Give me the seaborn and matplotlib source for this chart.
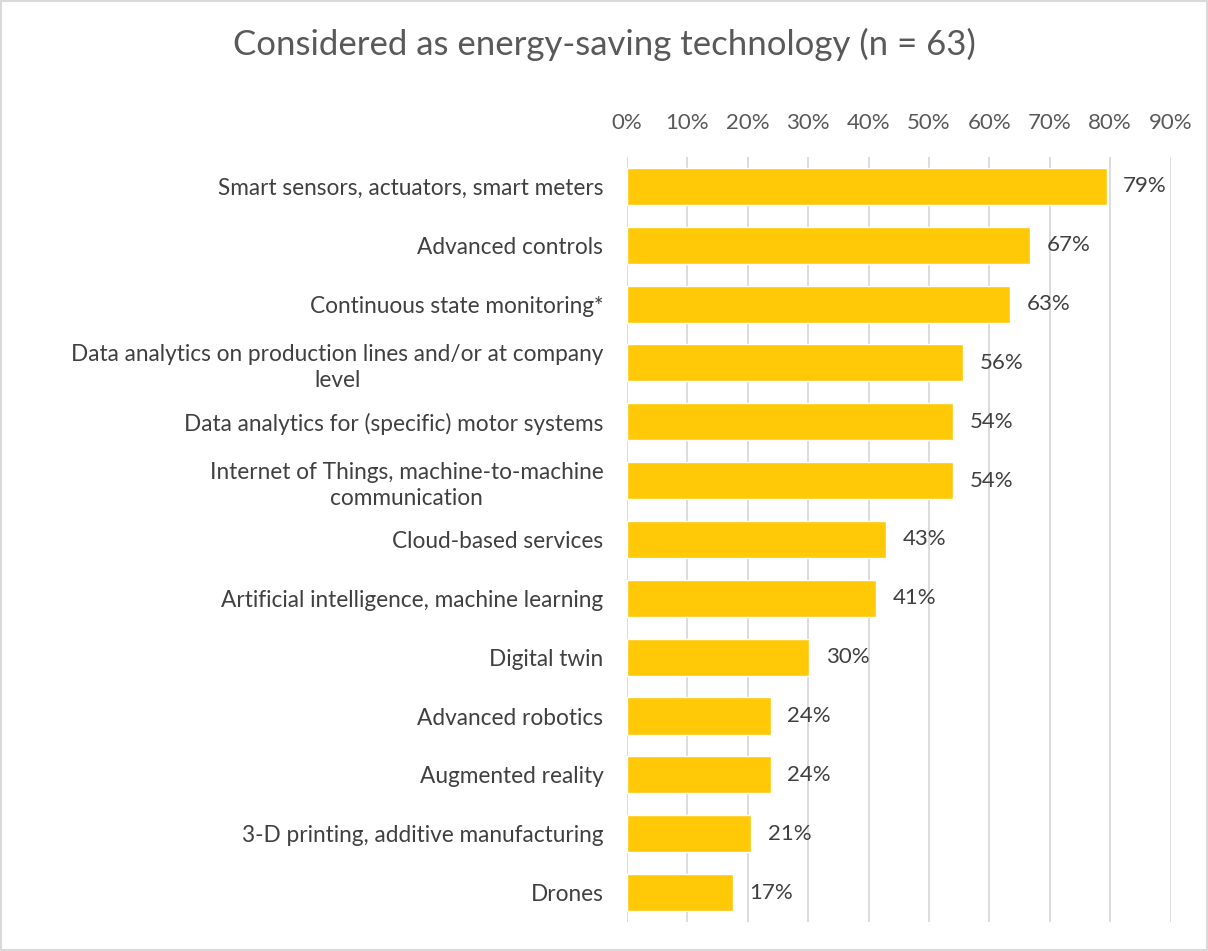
import matplotlib.pyplot as plt
import seaborn as sns
import pandas as pd
from matplotlib.patches import Rectangle
from matplotlib.ticker import PercentFormatter

# data (share of respondents, n = 63)
technologies = [
    'Smart sensors, actuators, smart meters',
    'Advanced controls',
    'Continuous state monitoring*',
    'Data analytics on production lines and/or at company\nlevel',
    'Data analytics for (specific) motor systems',
    'Internet of Things, machine-to-machine\ncommunication',
    'Cloud-based services',
    'Artificial intelligence, machine learning',
    'Digital twin',
    'Advanced robotics',
    'Augmented reality',
    '3-D printing, additive manufacturing',
    'Drones',
]
shares = [0.794, 0.667, 0.635, 0.556, 0.540, 0.540, 0.429, 0.413, 0.302, 0.238, 0.238, 0.206, 0.175]
value_labels = ['79%', '67%', '63%', '56%', '54%', '54%', '43%', '41%', '30%', '24%', '24%', '21%', '17%']

df = pd.DataFrame({'Technology': technologies, 'Share': shares})

sns.set_style('white')
plt.rcParams['font.family'] = ['Lato', 'DejaVu Sans']

fig = plt.figure(figsize=(12.08, 9.51), dpi=100)
ax = fig.add_axes([0.519, 0.0305, 0.45, 0.8045])

sns.barplot(data=df, x='Share', y='Technology', color='#FFC907', saturation=1,
            width=0.63, ax=ax, zorder=3)

ax.set_xlim(0, 0.9)
ax.set_xticks([i / 10 for i in range(10)])
ax.xaxis.set_major_formatter(PercentFormatter(1.0, decimals=0))
ax.xaxis.tick_top()
ax.tick_params(axis='x', length=0, pad=17, labelsize=16, labelcolor='#595959')
ax.tick_params(axis='y', length=0, pad=17, labelsize=16.3, labelcolor='#404040')
for lab in ax.get_yticklabels():
    lab.set_multialignment('center')
    lab.set_linespacing(1.3)
ax.grid(axis='x', color='#D9D9D9', linewidth=1.3, zorder=0)
ax.set_xlabel('')
ax.set_ylabel('')
for s in ax.spines.values():
    s.set_visible(False)

for i, (v, lab) in enumerate(zip(shares, value_labels)):
    ax.annotate(lab, (v, i), xytext=(12, 0), textcoords='offset points',
                ha='left', va='center', fontsize=16, color='#404040')

fig.text(0.5, 0.953, 'Considered as energy-saving technology (n = 63)',
         ha='center', va='center', fontsize=25, color='#595959')

fig.patches.append(Rectangle((0.001, 0.001), 0.998, 0.998, transform=fig.transFigure,
                             fill=False, edgecolor='#D9D9D9', linewidth=1.5))

fig.savefig('out.png', dpi=100)
